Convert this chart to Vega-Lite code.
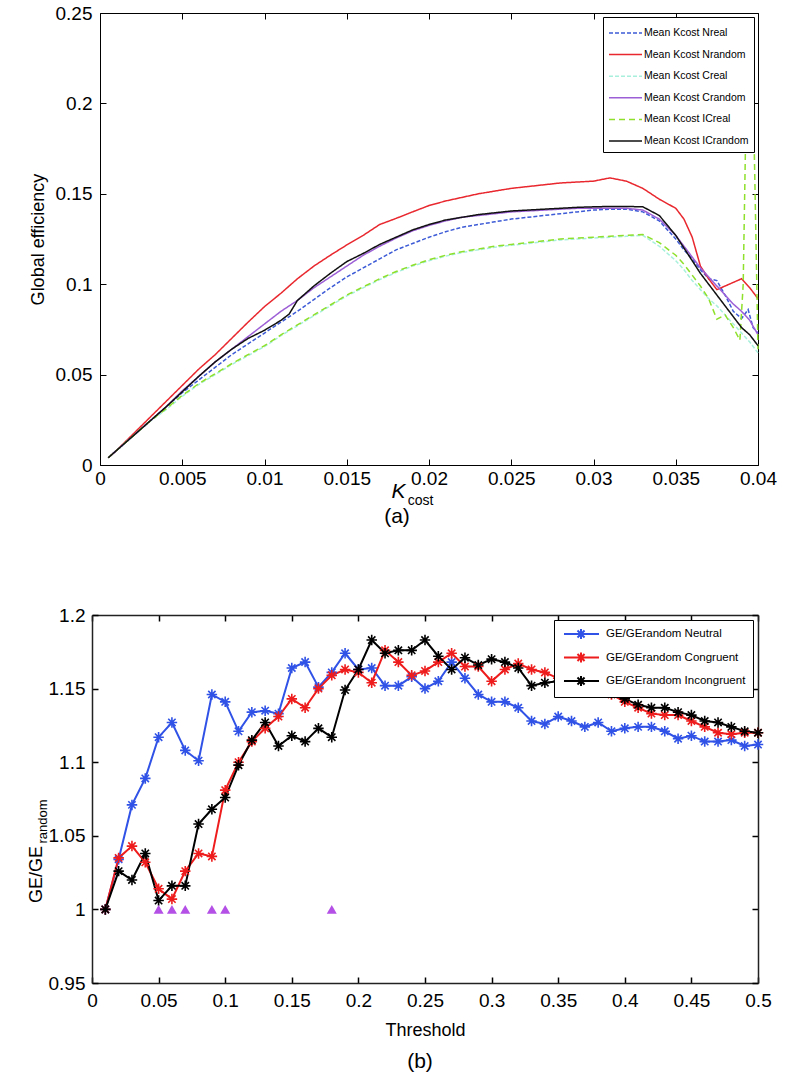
{
"$schema":"https://vega.github.io/schema/vega-lite/v6.json",
"background":"white",
"padding":{"left":27,"top":4,"right":5,"bottom":5},
"config":{
 "font":"Liberation Sans",
 "view":{"stroke":null},
 "axis":{"grid":false,"domainColor":"black","tickColor":"black","labelColor":"black","titleColor":"black","labelFont":"Liberation Sans","titleFont":"Liberation Sans","labelFontSize":19,"titleFontSize":18,"titleFontWeight":"normal","tickSize":-6,"labelFlush":false,"labelOverlap":false,"domainWidth":1,"tickWidth":1},
 "title":{"font":"Liberation Sans","fontSize":21,"fontWeight":"normal","color":"black","orient":"bottom","offset":4},
 "legend":{"title":null,"fillColor":"white","strokeColor":"black","labelColor":"black","labelFont":"Liberation Sans","labelLimit":400}
},
"datasets":{
"a":[
{"s":"A","x":0.0005,"y":0.004},{"s":"A","x":0.001,"y":0.008},{"s":"A","x":0.002,"y":0.016},{"s":"A","x":0.003,"y":0.024},{"s":"A","x":0.004,"y":0.032},{"s":"A","x":0.005,"y":0.040},{"s":"A","x":0.006,"y":0.047},{"s":"A","x":0.007,"y":0.054},{"s":"A","x":0.008,"y":0.061},{"s":"A","x":0.009,"y":0.067},{"s":"A","x":0.010,"y":0.073},{"s":"A","x":0.011,"y":0.079},{"s":"A","x":0.012,"y":0.085},{"s":"A","x":0.013,"y":0.0915},{"s":"A","x":0.014,"y":0.098},{"s":"A","x":0.015,"y":0.104},{"s":"A","x":0.016,"y":0.109},{"s":"A","x":0.017,"y":0.114},{"s":"A","x":0.018,"y":0.119},{"s":"A","x":0.019,"y":0.1225},{"s":"A","x":0.020,"y":0.126},{"s":"A","x":0.021,"y":0.129},{"s":"A","x":0.022,"y":0.1315},{"s":"A","x":0.023,"y":0.133},{"s":"A","x":0.024,"y":0.1345},{"s":"A","x":0.025,"y":0.136},{"s":"A","x":0.026,"y":0.137},{"s":"A","x":0.027,"y":0.138},{"s":"A","x":0.028,"y":0.139},{"s":"A","x":0.029,"y":0.140},{"s":"A","x":0.030,"y":0.141},{"s":"A","x":0.031,"y":0.1415},{"s":"A","x":0.032,"y":0.1415},{"s":"A","x":0.033,"y":0.140},{"s":"A","x":0.034,"y":0.135},{"s":"A","x":0.035,"y":0.125},{"s":"A","x":0.0355,"y":0.119},{"s":"A","x":0.036,"y":0.114},{"s":"A","x":0.0365,"y":0.108},{"s":"A","x":0.037,"y":0.103},{"s":"A","x":0.0375,"y":0.102},{"s":"A","x":0.038,"y":0.094},{"s":"A","x":0.0385,"y":0.085},{"s":"A","x":0.039,"y":0.081},{"s":"A","x":0.0394,"y":0.086},{"s":"A","x":0.0397,"y":0.076},{"s":"A","x":0.040,"y":0.073},
{"s":"B","x":0.0005,"y":0.004},{"s":"B","x":0.001,"y":0.008},{"s":"B","x":0.002,"y":0.017},{"s":"B","x":0.003,"y":0.026},{"s":"B","x":0.004,"y":0.035},{"s":"B","x":0.005,"y":0.044},{"s":"B","x":0.006,"y":0.053},{"s":"B","x":0.007,"y":0.061},{"s":"B","x":0.008,"y":0.070},{"s":"B","x":0.009,"y":0.079},{"s":"B","x":0.010,"y":0.0876},{"s":"B","x":0.011,"y":0.095},{"s":"B","x":0.012,"y":0.103},{"s":"B","x":0.013,"y":0.110},{"s":"B","x":0.014,"y":0.116},{"s":"B","x":0.015,"y":0.1217},{"s":"B","x":0.016,"y":0.127},{"s":"B","x":0.017,"y":0.133},{"s":"B","x":0.018,"y":0.1364},{"s":"B","x":0.019,"y":0.140},{"s":"B","x":0.020,"y":0.1435},{"s":"B","x":0.021,"y":0.146},{"s":"B","x":0.022,"y":0.148},{"s":"B","x":0.023,"y":0.150},{"s":"B","x":0.024,"y":0.1515},{"s":"B","x":0.025,"y":0.153},{"s":"B","x":0.026,"y":0.154},{"s":"B","x":0.027,"y":0.155},{"s":"B","x":0.028,"y":0.156},{"s":"B","x":0.029,"y":0.1565},{"s":"B","x":0.030,"y":0.157},{"s":"B","x":0.031,"y":0.1588},{"s":"B","x":0.032,"y":0.157},{"s":"B","x":0.033,"y":0.153},{"s":"B","x":0.034,"y":0.147},{"s":"B","x":0.035,"y":0.142},{"s":"B","x":0.0355,"y":0.136},{"s":"B","x":0.036,"y":0.126},{"s":"B","x":0.0365,"y":0.110},{"s":"B","x":0.037,"y":0.103},{"s":"B","x":0.0375,"y":0.097},{"s":"B","x":0.038,"y":0.099},{"s":"B","x":0.0385,"y":0.101},{"s":"B","x":0.039,"y":0.103},{"s":"B","x":0.0395,"y":0.098},{"s":"B","x":0.040,"y":0.092},
{"s":"C","x":0.0005,"y":0.004},{"s":"C","x":0.001,"y":0.008},{"s":"C","x":0.002,"y":0.016},{"s":"C","x":0.003,"y":0.0238},{"s":"C","x":0.004,"y":0.0305},{"s":"C","x":0.005,"y":0.038},{"s":"C","x":0.006,"y":0.0445},{"s":"C","x":0.007,"y":0.050},{"s":"C","x":0.008,"y":0.0555},{"s":"C","x":0.009,"y":0.0605},{"s":"C","x":0.010,"y":0.0655},{"s":"C","x":0.011,"y":0.0715},{"s":"C","x":0.012,"y":0.077},{"s":"C","x":0.013,"y":0.0825},{"s":"C","x":0.014,"y":0.088},{"s":"C","x":0.015,"y":0.0935},{"s":"C","x":0.016,"y":0.098},{"s":"C","x":0.017,"y":0.1025},{"s":"C","x":0.018,"y":0.1065},{"s":"C","x":0.019,"y":0.110},{"s":"C","x":0.020,"y":0.113},{"s":"C","x":0.021,"y":0.1155},{"s":"C","x":0.022,"y":0.1175},{"s":"C","x":0.023,"y":0.119},{"s":"C","x":0.024,"y":0.1205},{"s":"C","x":0.025,"y":0.1215},{"s":"C","x":0.026,"y":0.1225},{"s":"C","x":0.027,"y":0.1235},{"s":"C","x":0.028,"y":0.1245},{"s":"C","x":0.029,"y":0.125},{"s":"C","x":0.030,"y":0.1255},{"s":"C","x":0.031,"y":0.126},{"s":"C","x":0.032,"y":0.1265},{"s":"C","x":0.033,"y":0.127},{"s":"C","x":0.034,"y":0.121},{"s":"C","x":0.035,"y":0.113},{"s":"C","x":0.0355,"y":0.108},{"s":"C","x":0.036,"y":0.102},{"s":"C","x":0.0365,"y":0.097},{"s":"C","x":0.037,"y":0.092},{"s":"C","x":0.0375,"y":0.088},{"s":"C","x":0.038,"y":0.083},{"s":"C","x":0.0385,"y":0.078},{"s":"C","x":0.039,"y":0.073},{"s":"C","x":0.0395,"y":0.068},{"s":"C","x":0.040,"y":0.062},
{"s":"D","x":0.0005,"y":0.004},{"s":"D","x":0.001,"y":0.008},{"s":"D","x":0.002,"y":0.016},{"s":"D","x":0.003,"y":0.024},{"s":"D","x":0.004,"y":0.032},{"s":"D","x":0.005,"y":0.041},{"s":"D","x":0.006,"y":0.049},{"s":"D","x":0.007,"y":0.057},{"s":"D","x":0.008,"y":0.064},{"s":"D","x":0.009,"y":0.071},{"s":"D","x":0.010,"y":0.078},{"s":"D","x":0.011,"y":0.085},{"s":"D","x":0.012,"y":0.091},{"s":"D","x":0.013,"y":0.098},{"s":"D","x":0.014,"y":0.104},{"s":"D","x":0.015,"y":0.110},{"s":"D","x":0.016,"y":0.116},{"s":"D","x":0.017,"y":0.121},{"s":"D","x":0.018,"y":0.1255},{"s":"D","x":0.019,"y":0.1295},{"s":"D","x":0.020,"y":0.1325},{"s":"D","x":0.021,"y":0.135},{"s":"D","x":0.022,"y":0.137},{"s":"D","x":0.023,"y":0.138},{"s":"D","x":0.024,"y":0.139},{"s":"D","x":0.025,"y":0.140},{"s":"D","x":0.026,"y":0.1405},{"s":"D","x":0.027,"y":0.141},{"s":"D","x":0.028,"y":0.1415},{"s":"D","x":0.029,"y":0.142},{"s":"D","x":0.030,"y":0.142},{"s":"D","x":0.031,"y":0.142},{"s":"D","x":0.032,"y":0.142},{"s":"D","x":0.033,"y":0.141},{"s":"D","x":0.034,"y":0.136},{"s":"D","x":0.035,"y":0.127},{"s":"D","x":0.0355,"y":0.121},{"s":"D","x":0.036,"y":0.115},{"s":"D","x":0.0365,"y":0.109},{"s":"D","x":0.037,"y":0.104},{"s":"D","x":0.0375,"y":0.099},{"s":"D","x":0.038,"y":0.094},{"s":"D","x":0.0385,"y":0.089},{"s":"D","x":0.039,"y":0.085},{"s":"D","x":0.0395,"y":0.080},{"s":"D","x":0.040,"y":0.072},
{"s":"E","x":0.0005,"y":0.004},{"s":"E","x":0.001,"y":0.008},{"s":"E","x":0.002,"y":0.016},{"s":"E","x":0.003,"y":0.024},{"s":"E","x":0.004,"y":0.031},{"s":"E","x":0.005,"y":0.0385},{"s":"E","x":0.006,"y":0.045},{"s":"E","x":0.007,"y":0.0505},{"s":"E","x":0.008,"y":0.056},{"s":"E","x":0.009,"y":0.061},{"s":"E","x":0.010,"y":0.066},{"s":"E","x":0.011,"y":0.072},{"s":"E","x":0.012,"y":0.0775},{"s":"E","x":0.013,"y":0.083},{"s":"E","x":0.014,"y":0.0885},{"s":"E","x":0.015,"y":0.094},{"s":"E","x":0.016,"y":0.0985},{"s":"E","x":0.017,"y":0.103},{"s":"E","x":0.018,"y":0.107},{"s":"E","x":0.019,"y":0.1105},{"s":"E","x":0.020,"y":0.1135},{"s":"E","x":0.021,"y":0.116},{"s":"E","x":0.022,"y":0.118},{"s":"E","x":0.023,"y":0.1195},{"s":"E","x":0.024,"y":0.121},{"s":"E","x":0.025,"y":0.122},{"s":"E","x":0.026,"y":0.123},{"s":"E","x":0.027,"y":0.124},{"s":"E","x":0.028,"y":0.125},{"s":"E","x":0.029,"y":0.1255},{"s":"E","x":0.030,"y":0.126},{"s":"E","x":0.031,"y":0.1265},{"s":"E","x":0.032,"y":0.127},{"s":"E","x":0.033,"y":0.1275},{"s":"E","x":0.034,"y":0.123},{"s":"E","x":0.035,"y":0.116},{"s":"E","x":0.0355,"y":0.111},{"s":"E","x":0.036,"y":0.105},{"s":"E","x":0.0365,"y":0.099},{"s":"E","x":0.037,"y":0.092},{"s":"E","x":0.0375,"y":0.0806},{"s":"E","x":0.038,"y":0.083},{"s":"E","x":0.0385,"y":0.076},{"s":"E","x":0.0389,"y":0.069},{"s":"E","x":0.0391,"y":0.100},{"s":"E","x":0.0393,"y":0.210},{"s":"E","x":0.0397,"y":0.210},{"s":"E","x":0.040,"y":0.064},
{"s":"F","x":0.0005,"y":0.004},{"s":"F","x":0.001,"y":0.008},{"s":"F","x":0.002,"y":0.016},{"s":"F","x":0.003,"y":0.024},{"s":"F","x":0.004,"y":0.032},{"s":"F","x":0.005,"y":0.0405},{"s":"F","x":0.006,"y":0.049},{"s":"F","x":0.007,"y":0.057},{"s":"F","x":0.008,"y":0.064},{"s":"F","x":0.009,"y":0.070},{"s":"F","x":0.010,"y":0.0745},{"s":"F","x":0.011,"y":0.080},{"s":"F","x":0.0115,"y":0.0835},{"s":"F","x":0.012,"y":0.091},{"s":"F","x":0.013,"y":0.099},{"s":"F","x":0.014,"y":0.106},{"s":"F","x":0.015,"y":0.1125},{"s":"F","x":0.016,"y":0.117},{"s":"F","x":0.017,"y":0.122},{"s":"F","x":0.018,"y":0.126},{"s":"F","x":0.019,"y":0.130},{"s":"F","x":0.020,"y":0.133},{"s":"F","x":0.021,"y":0.1355},{"s":"F","x":0.022,"y":0.137},{"s":"F","x":0.023,"y":0.1385},{"s":"F","x":0.024,"y":0.1395},{"s":"F","x":0.025,"y":0.1405},{"s":"F","x":0.026,"y":0.141},{"s":"F","x":0.027,"y":0.1415},{"s":"F","x":0.028,"y":0.142},{"s":"F","x":0.029,"y":0.1425},{"s":"F","x":0.030,"y":0.1428},{"s":"F","x":0.031,"y":0.143},{"s":"F","x":0.032,"y":0.143},{"s":"F","x":0.033,"y":0.1428},{"s":"F","x":0.034,"y":0.138},{"s":"F","x":0.035,"y":0.127},{"s":"F","x":0.0355,"y":0.120},{"s":"F","x":0.036,"y":0.113},{"s":"F","x":0.0365,"y":0.106},{"s":"F","x":0.037,"y":0.100},{"s":"F","x":0.0375,"y":0.094},{"s":"F","x":0.038,"y":0.088},{"s":"F","x":0.0385,"y":0.082},{"s":"F","x":0.039,"y":0.076},{"s":"F","x":0.0395,"y":0.072},{"s":"F","x":0.040,"y":0.066}
],
"b":[
{"c":"Neutral","x":0.01,"y":1.000},{"c":"Neutral","x":0.02,"y":1.034},{"c":"Neutral","x":0.03,"y":1.071},{"c":"Neutral","x":0.04,"y":1.089},{"c":"Neutral","x":0.05,"y":1.117},{"c":"Neutral","x":0.06,"y":1.127},{"c":"Neutral","x":0.07,"y":1.108},{"c":"Neutral","x":0.08,"y":1.101},{"c":"Neutral","x":0.09,"y":1.146},{"c":"Neutral","x":0.10,"y":1.141},
{"c":"Neutral","x":0.11,"y":1.121},{"c":"Neutral","x":0.12,"y":1.134},{"c":"Neutral","x":0.13,"y":1.135},{"c":"Neutral","x":0.14,"y":1.133},{"c":"Neutral","x":0.15,"y":1.164},{"c":"Neutral","x":0.16,"y":1.168},{"c":"Neutral","x":0.17,"y":1.151},{"c":"Neutral","x":0.18,"y":1.161},{"c":"Neutral","x":0.19,"y":1.174},{"c":"Neutral","x":0.20,"y":1.163},
{"c":"Neutral","x":0.21,"y":1.164},{"c":"Neutral","x":0.22,"y":1.152},{"c":"Neutral","x":0.23,"y":1.152},{"c":"Neutral","x":0.24,"y":1.158},{"c":"Neutral","x":0.25,"y":1.150},{"c":"Neutral","x":0.26,"y":1.155},{"c":"Neutral","x":0.27,"y":1.168},{"c":"Neutral","x":0.28,"y":1.157},{"c":"Neutral","x":0.29,"y":1.146},{"c":"Neutral","x":0.30,"y":1.141},
{"c":"Neutral","x":0.31,"y":1.141},{"c":"Neutral","x":0.32,"y":1.137},{"c":"Neutral","x":0.33,"y":1.128},{"c":"Neutral","x":0.34,"y":1.126},{"c":"Neutral","x":0.35,"y":1.131},{"c":"Neutral","x":0.36,"y":1.128},{"c":"Neutral","x":0.37,"y":1.124},{"c":"Neutral","x":0.38,"y":1.127},{"c":"Neutral","x":0.39,"y":1.121},{"c":"Neutral","x":0.40,"y":1.123},
{"c":"Neutral","x":0.41,"y":1.124},{"c":"Neutral","x":0.42,"y":1.124},{"c":"Neutral","x":0.43,"y":1.121},{"c":"Neutral","x":0.44,"y":1.116},{"c":"Neutral","x":0.45,"y":1.118},{"c":"Neutral","x":0.46,"y":1.114},{"c":"Neutral","x":0.47,"y":1.114},{"c":"Neutral","x":0.48,"y":1.115},{"c":"Neutral","x":0.49,"y":1.111},{"c":"Neutral","x":0.50,"y":1.112},
{"c":"Congruent","x":0.01,"y":1.000},{"c":"Congruent","x":0.02,"y":1.035},{"c":"Congruent","x":0.03,"y":1.043},{"c":"Congruent","x":0.04,"y":1.032},{"c":"Congruent","x":0.05,"y":1.014},{"c":"Congruent","x":0.06,"y":1.007},{"c":"Congruent","x":0.07,"y":1.026},{"c":"Congruent","x":0.08,"y":1.038},{"c":"Congruent","x":0.09,"y":1.036},{"c":"Congruent","x":0.10,"y":1.081},
{"c":"Congruent","x":0.11,"y":1.100},{"c":"Congruent","x":0.12,"y":1.114},{"c":"Congruent","x":0.13,"y":1.123},{"c":"Congruent","x":0.14,"y":1.131},{"c":"Congruent","x":0.15,"y":1.143},{"c":"Congruent","x":0.16,"y":1.137},{"c":"Congruent","x":0.17,"y":1.150},{"c":"Congruent","x":0.18,"y":1.159},{"c":"Congruent","x":0.19,"y":1.163},{"c":"Congruent","x":0.20,"y":1.161},
{"c":"Congruent","x":0.21,"y":1.154},{"c":"Congruent","x":0.22,"y":1.176},{"c":"Congruent","x":0.23,"y":1.168},{"c":"Congruent","x":0.24,"y":1.159},{"c":"Congruent","x":0.25,"y":1.162},{"c":"Congruent","x":0.26,"y":1.168},{"c":"Congruent","x":0.27,"y":1.174},{"c":"Congruent","x":0.28,"y":1.165},{"c":"Congruent","x":0.29,"y":1.165},{"c":"Congruent","x":0.30,"y":1.155},
{"c":"Congruent","x":0.31,"y":1.163},{"c":"Congruent","x":0.32,"y":1.167},{"c":"Congruent","x":0.33,"y":1.163},{"c":"Congruent","x":0.34,"y":1.161},{"c":"Congruent","x":0.35,"y":1.157},{"c":"Congruent","x":0.36,"y":1.153},{"c":"Congruent","x":0.37,"y":1.151},{"c":"Congruent","x":0.38,"y":1.148},{"c":"Congruent","x":0.39,"y":1.146},{"c":"Congruent","x":0.40,"y":1.141},
{"c":"Congruent","x":0.41,"y":1.137},{"c":"Congruent","x":0.42,"y":1.133},{"c":"Congruent","x":0.43,"y":1.132},{"c":"Congruent","x":0.44,"y":1.132},{"c":"Congruent","x":0.45,"y":1.128},{"c":"Congruent","x":0.46,"y":1.124},{"c":"Congruent","x":0.47,"y":1.120},{"c":"Congruent","x":0.48,"y":1.119},{"c":"Congruent","x":0.49,"y":1.120},{"c":"Congruent","x":0.50,"y":1.120},
{"c":"Incongruent","x":0.01,"y":1.000},{"c":"Incongruent","x":0.02,"y":1.026},{"c":"Incongruent","x":0.03,"y":1.020},{"c":"Incongruent","x":0.04,"y":1.038},{"c":"Incongruent","x":0.05,"y":1.006},{"c":"Incongruent","x":0.06,"y":1.016},{"c":"Incongruent","x":0.07,"y":1.016},{"c":"Incongruent","x":0.08,"y":1.058},{"c":"Incongruent","x":0.09,"y":1.068},{"c":"Incongruent","x":0.10,"y":1.076},
{"c":"Incongruent","x":0.11,"y":1.098},{"c":"Incongruent","x":0.12,"y":1.115},{"c":"Incongruent","x":0.13,"y":1.127},{"c":"Incongruent","x":0.14,"y":1.111},{"c":"Incongruent","x":0.15,"y":1.118},{"c":"Incongruent","x":0.16,"y":1.114},{"c":"Incongruent","x":0.17,"y":1.123},{"c":"Incongruent","x":0.18,"y":1.117},{"c":"Incongruent","x":0.19,"y":1.149},{"c":"Incongruent","x":0.20,"y":1.163},
{"c":"Incongruent","x":0.21,"y":1.183},{"c":"Incongruent","x":0.22,"y":1.174},{"c":"Incongruent","x":0.23,"y":1.176},{"c":"Incongruent","x":0.24,"y":1.176},{"c":"Incongruent","x":0.25,"y":1.183},{"c":"Incongruent","x":0.26,"y":1.172},{"c":"Incongruent","x":0.27,"y":1.163},{"c":"Incongruent","x":0.28,"y":1.171},{"c":"Incongruent","x":0.29,"y":1.166},{"c":"Incongruent","x":0.30,"y":1.170},
{"c":"Incongruent","x":0.31,"y":1.168},{"c":"Incongruent","x":0.32,"y":1.164},{"c":"Incongruent","x":0.33,"y":1.152},{"c":"Incongruent","x":0.34,"y":1.154},{"c":"Incongruent","x":0.35,"y":1.155},{"c":"Incongruent","x":0.36,"y":1.155},{"c":"Incongruent","x":0.37,"y":1.152},{"c":"Incongruent","x":0.38,"y":1.150},{"c":"Incongruent","x":0.39,"y":1.147},{"c":"Incongruent","x":0.40,"y":1.143},
{"c":"Incongruent","x":0.41,"y":1.139},{"c":"Incongruent","x":0.42,"y":1.137},{"c":"Incongruent","x":0.43,"y":1.137},{"c":"Incongruent","x":0.44,"y":1.134},{"c":"Incongruent","x":0.45,"y":1.132},{"c":"Incongruent","x":0.46,"y":1.128},{"c":"Incongruent","x":0.47,"y":1.127},{"c":"Incongruent","x":0.48,"y":1.124},{"c":"Incongruent","x":0.49,"y":1.121},{"c":"Incongruent","x":0.50,"y":1.120}
],
"tri":[{"x":0.05,"y":1},{"x":0.06,"y":1},{"x":0.07,"y":1},{"x":0.09,"y":1},{"x":0.10,"y":1},{"x":0.18,"y":1}]
},
"spacing":79,
"resolve":{"scale":{"color":"independent","strokeDash":"independent"},"legend":{"color":"independent","strokeDash":"independent"}},
"vconcat":[
{
 "width":666,"height":452,
 "title":{"text":"(a)","dx":-28,"offset":-1},
 "resolve":{"axis":{"x":"independent","y":"independent"}},
 "layer":[
  {"data":{"name":"a"},"mark":{"type":"line","strokeWidth":1.5},
   "encoding":{
    "x":{"field":"x","type":"quantitative","scale":{"domain":[0,0.04],"range":[8,666],"nice":false,"zero":false},
      "axis":{"orient":"bottom","values":[0,0.005,0.01,0.015,0.02,0.025,0.03,0.035,0.04],"format":"~g","labelPadding":10,"title":"K","titleFontStyle":"italic","titleFontSize":21,"titleX":306,"titleY":32,"titleBaseline":"alphabetic","titleAlign":"center"}},
    "y":{"field":"y","type":"quantitative","scale":{"domain":[0,0.25],"nice":false,"zero":false},
      "axis":{"orient":"left","offset":-8,"values":[0,0.05,0.1,0.15,0.2,0.25],"format":"~g","labelPadding":14,"title":"Global efficiency","titlePadding":8}},
    "color":{"field":"s","type":"nominal","scale":{"domain":["A","B","C","D","E","F"],"range":["#3d5bd6","#e8282e","#a8f0dc","#9d5fd6","#8ee02c","#111111"]},
      "legend":{"orient":"top-right","offset":4,"padding":5,"labelFontSize":10.5,"symbolType":"M-1,0L2.3,0","symbolSize":400,"symbolStrokeWidth":1.5,"rowPadding":4.6,"labelOffset":14,"labelExpr":"{'A':'Mean Kcost Nreal','B':'Mean Kcost Nrandom','C':'Mean Kcost Creal','D':'Mean Kcost Crandom','E':'Mean Kcost ICreal','F':'Mean Kcost ICrandom'}[datum.label]"}},
    "strokeDash":{"field":"s","type":"nominal","scale":{"domain":["A","B","C","D","E","F"],"range":[[4,2],[1,0],[4,2],[1,0],[6,4],[1,0]]},
      "legend":{"orient":"top-right","offset":4,"padding":5,"labelFontSize":10.5,"symbolType":"M-1,0L2.3,0","symbolSize":400,"symbolStrokeWidth":1.5,"rowPadding":4.6,"labelOffset":14,"labelExpr":"{'A':'Mean Kcost Nreal','B':'Mean Kcost Nrandom','C':'Mean Kcost Creal','D':'Mean Kcost Crandom','E':'Mean Kcost ICreal','F':'Mean Kcost ICrandom'}[datum.label]"}}
   }},
  {"data":{"name":"a"},"mark":{"type":"point","opacity":0},
   "encoding":{
    "x":{"field":"x","type":"quantitative","scale":{"domain":[0,0.04],"range":[8,666],"nice":false,"zero":false},
      "axis":{"orient":"top","values":[0,0.005,0.01,0.015,0.02,0.025,0.03,0.035,0.04],"labels":false,"title":null}},
    "y":{"field":"y","type":"quantitative","scale":{"domain":[0,0.25],"nice":false,"zero":false},
      "axis":{"orient":"right","values":[0,0.05,0.1,0.15,0.2,0.25],"labels":false,"title":null}}
   }},
  {"data":{"name":"a"},"mark":{"type":"point","opacity":0},
   "encoding":{
    "x":{"field":"x","type":"quantitative","scale":{"domain":[0,0.04],"range":[8,666],"nice":false,"zero":false},
      "axis":{"orient":"bottom","labels":false,"ticks":false,"domain":false,"title":"cost","titleFontSize":14,"titleX":328,"titleY":39,"titleBaseline":"alphabetic","titleAlign":"center"}},
    "y":{"field":"y","type":"quantitative","scale":{"domain":[0,0.25],"nice":false,"zero":false},"axis":null}
   }}
 ]
},
{
 "width":666,"height":368,
 "title":{"text":"(b)","dx":-5,"offset":12},
 "resolve":{"axis":{"x":"independent","y":"independent"}},
 "layer":[
  {"data":{"name":"b"},"mark":{"type":"line","strokeWidth":2},
   "encoding":{
    "x":{"field":"x","type":"quantitative","scale":{"domain":[0,0.5],"nice":false,"zero":false},
      "axis":{"orient":"bottom","values":[0,0.05,0.1,0.15,0.2,0.25,0.3,0.35,0.4,0.45,0.5],"format":"~g","labelPadding":14,"title":"Threshold","titlePadding":11,"domainWidth":1.5,"tickWidth":1.5,"domainColor":"#222222"}},
    "y":{"field":"y","type":"quantitative","scale":{"domain":[0.95,1.2],"nice":false,"zero":false},
      "axis":{"orient":"left","values":[0.95,1,1.05,1.1,1.15,1.2],"format":"~g","labelPadding":13,"domainWidth":1.5,"tickWidth":1.5,"domainColor":"#222222","title":"GE/GE","titleX":-51,"titleY":259,"titleAngle":270,"titleBaseline":"alphabetic","titleAlign":"center"}},
    "color":{"field":"c","type":"nominal","scale":{"domain":["Neutral","Congruent","Incongruent"],"range":["#3052e6","#ee1c1c","#000000"]},
      "legend":{"orient":"top-right","offset":5,"padding":7,"labelFontSize":11.5,"symbolType":"M-0.67,0L5.17,0M1.34,0L3.0,0M2.17,-0.83L2.17,0.83M1.58,-0.58L2.76,0.58M1.58,0.58L2.76,-0.58","symbolSize":144,"symbolStrokeWidth":2,"rowPadding":5.5,"labelOffset":31,"labelExpr":"'GE/GErandom ' + datum.label"}}
   }},
  {"data":{"name":"b"},"mark":{"type":"point","shape":"M-1,0L1,0M0,-1L0,1M-0.7,-0.7L0.7,0.7M-0.7,0.7L0.7,-0.7","size":110,"filled":false,"strokeWidth":1.6,"opacity":1},
   "encoding":{
    "x":{"field":"x","type":"quantitative","scale":{"domain":[0,0.5],"nice":false,"zero":false},
      "axis":{"orient":"top","values":[0,0.05,0.1,0.15,0.2,0.25,0.3,0.35,0.4,0.45,0.5],"labels":false,"title":null,"domainWidth":1.5,"tickWidth":1.5,"domainColor":"#222222"}},
    "y":{"field":"y","type":"quantitative","scale":{"domain":[0.95,1.2],"nice":false,"zero":false},
      "axis":{"orient":"right","values":[0.95,1,1.05,1.1,1.15,1.2],"labels":false,"title":null,"domainWidth":1.5,"tickWidth":1.5,"domainColor":"#222222"}},
    "color":{"field":"c","type":"nominal"}
   }},
  {"data":{"name":"tri"},"mark":{"type":"point","shape":"triangle-up","filled":true,"size":100,"color":"#b450e6","opacity":1},
   "encoding":{
    "x":{"field":"x","type":"quantitative","scale":{"domain":[0,0.5],"nice":false,"zero":false},"axis":null},
    "y":{"field":"y","type":"quantitative","scale":{"domain":[0.95,1.2],"nice":false,"zero":false},
      "axis":{"orient":"left","labels":false,"ticks":false,"domain":false,"title":"random","titleFontSize":13,"titleX":-46,"titleY":206,"titleAngle":270,"titleBaseline":"alphabetic","titleAlign":"center"}}
   }}
 ]
}
]
}
